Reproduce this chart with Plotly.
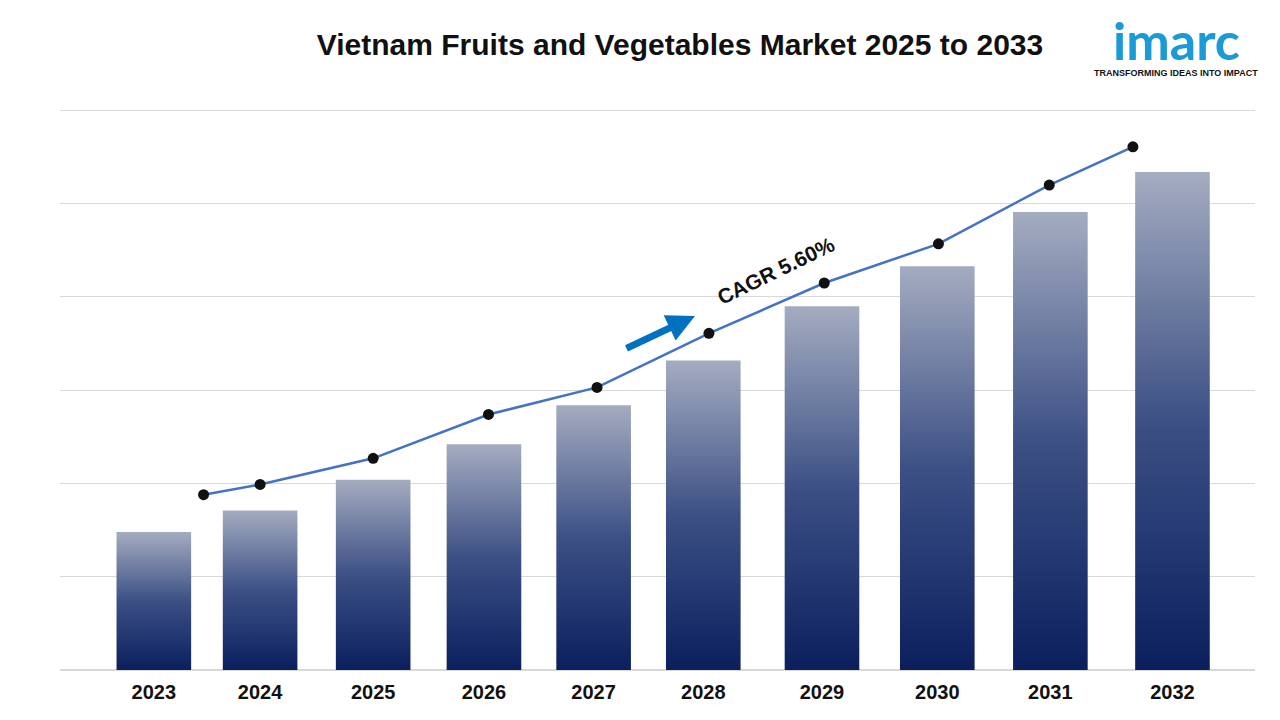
import plotly.graph_objects as go

years = ["2023", "2024", "2025", "2026", "2027", "2028", "2029", "2030", "2031", "2032"]
bar_values = [1.48, 1.71, 2.04, 2.42, 2.84, 3.32, 3.90, 4.33, 4.91, 5.34]
bar_pos = [0, 0.94, 1.94, 2.92, 3.89, 4.86, 5.91, 6.93, 7.93, 9.01]
line_pos = [0.44, 0.94, 1.94, 2.96, 3.92, 4.91, 5.93, 6.94, 7.92, 8.66]
line_values = [1.88, 1.99, 2.27, 2.74, 3.03, 3.61, 4.15, 4.57, 5.20, 5.61]
bar_width = 0.66

fig = go.Figure()

# gradient bars drawn as filled rectangles
for x, v in zip(bar_pos, bar_values):
    h = bar_width / 2
    fig.add_trace(go.Scatter(
        x=[x - h, x + h, x + h, x - h, x - h],
        y=[0, 0, v, v, 0],
        mode="lines", fill="toself", line=dict(width=0),
        fillgradient=dict(type="vertical",
                          colorscale=[[0, "#0b1f5e"], [0.5, "#3c5085"], [1, "#a4acc0"]]),
        hoverinfo="skip", showlegend=False,
    ))

fig.add_trace(go.Scatter(
    x=line_pos, y=line_values, mode="lines+markers",
    line=dict(color="#4472c4", width=2.5),
    marker=dict(color="#111111", size=11),
    showlegend=False,
))

# page body has an 8px margin, so shift everything up/left by 8
fig.update_layout(
    width=1280, height=720,
    margin=dict(l=52, r=33, t=102, b=58, autoexpand=False),
    plot_bgcolor="white", paper_bgcolor="white",
    font=dict(family="Liberation Sans, Arial", color="#111111"),
    title=dict(text="<b>Vietnam Fruits and Vegetables Market 2025 to 2033</b>",
               x=0.525, xanchor="center", y=0.95, yanchor="middle",
               font=dict(size=30, color="#111111")),
    xaxis=dict(range=[-0.83, 9.74], tickmode="array", tickvals=bar_pos,
               ticktext=["<b>%s</b>" % y for y in years], tickfont=dict(size=20),
               ticklabelstandoff=8,
               showgrid=False, zeroline=False, showline=False),
    yaxis=dict(range=[0, 6.005], dtick=1, showticklabels=False, gridcolor="#d9d9d9",
               zeroline=True, zerolinecolor="#d9d9d9"),
)
fig.add_hline(y=6, line=dict(color="#d9d9d9", width=1), layer="below")

fig.add_annotation(x=(695 - 60) / 1195, y=(670 - 316) / 560, xref="paper", yref="paper",
                   ax=-70, ay=33, showarrow=True, arrowhead=2, arrowsize=0.8,
                   arrowwidth=7, arrowcolor="#0070c0", text="")
fig.add_annotation(x=(776 - 60) / 1195, y=(670 - 274) / 560, xref="paper", yref="paper",
                   xanchor="center", yanchor="middle", yshift=4,
                   text="<b>CAGR 5.60%</b>", showarrow=False, textangle=-26,
                   font=dict(size=21, color="#111111"))
fig.add_annotation(x=(1176 - 60) / 1195, y=1, xref="paper", yref="paper",
                   xanchor="center", yanchor="bottom", yshift=37,
                   text="<b>imarc</b>", showarrow=False,
                   font=dict(size=52, color="#1a9ad6", family="Lato, Liberation Sans"))
fig.add_annotation(x=(1176 - 60) / 1195, y=1, xref="paper", yref="paper",
                   xanchor="center", yanchor="bottom", yshift=30,
                   text="<b>TRANSFORMING IDEAS INTO IMPACT</b>", showarrow=False,
                   font=dict(size=9, color="#111111"))

fig.write_html("out.html")
